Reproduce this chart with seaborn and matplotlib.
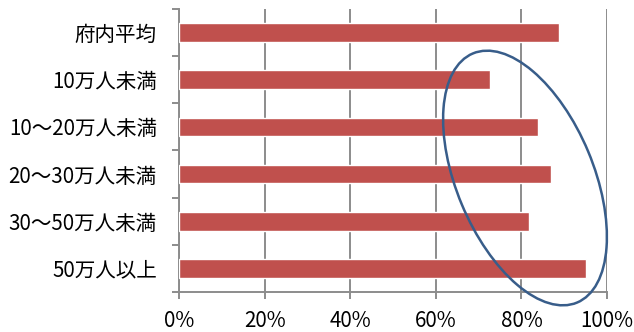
import matplotlib
matplotlib.use("Agg")
import matplotlib.pyplot as plt
from matplotlib.patches import Ellipse
from matplotlib.ticker import FixedLocator, PercentFormatter
import seaborn as sns
import pandas as pd

# Share of respondents by municipality population size (%)
categories = ["府内平均", "10万人未満", "10～20万人未満", "20～30万人未満", "30～50万人未満", "50万人以上"]
values = [88.8, 72.7, 83.9, 87.0, 81.8, 95.2]
x_ticks = [0, 20, 40, 60, 80, 100]

df = pd.DataFrame({"category": categories, "value": values})

sns.set_theme(style="white")
plt.rcParams["font.family"] = ["Noto Sans CJK JP", "DejaVu Sans"]

fig = plt.figure(figsize=(6.34, 3.32), dpi=100)
ax = fig.add_axes([0.2823, 0.1214, 0.6751, 0.8506])

grid_color = "#8C8C8C"
sns.barplot(data=df, x="value", y="category", orient="h", color="#C0504D",
            saturation=1, width=0.4, ax=ax, zorder=3)

ax.set_xlim(0, 100)
ax.set_xticks(x_ticks)
ax.xaxis.set_major_formatter(PercentFormatter(decimals=0))
ax.set_xlabel("")
ax.set_ylabel("")

# Vertical gridlines behind the bars
ax.grid(axis="x", color=grid_color, linewidth=1.4, zorder=0)
ax.set_axisbelow(True)

for side in ("top", "right"):
    ax.spines[side].set_visible(False)
for side in ("left", "bottom"):
    ax.spines[side].set_color(grid_color)
    ax.spines[side].set_linewidth(1.4)

# Category separators on the y axis
ax.yaxis.set_minor_locator(FixedLocator([i - 0.5 for i in range(len(categories) + 1)]))
ax.tick_params(axis="y", which="major", length=0, pad=16, labelsize=14.8, colors="black")
ax.tick_params(axis="y", which="minor", length=5, width=1.4, color=grid_color, direction="out", left=True)
ax.tick_params(axis="x", which="major", length=5, width=1.4, color=grid_color, direction="out",
               pad=8, labelsize=14.8, labelcolor="black", bottom=True)

# Highlight ring around the population-size groups
ring = Ellipse((5.25, 1.54), width=1.37, height=2.70, angle=22.7,
               transform=fig.dpi_scale_trans, fill=False,
               edgecolor="#385D8A", linewidth=1.8, zorder=5)
fig.add_artist(ring)

fig.savefig("out.png", dpi=100)
